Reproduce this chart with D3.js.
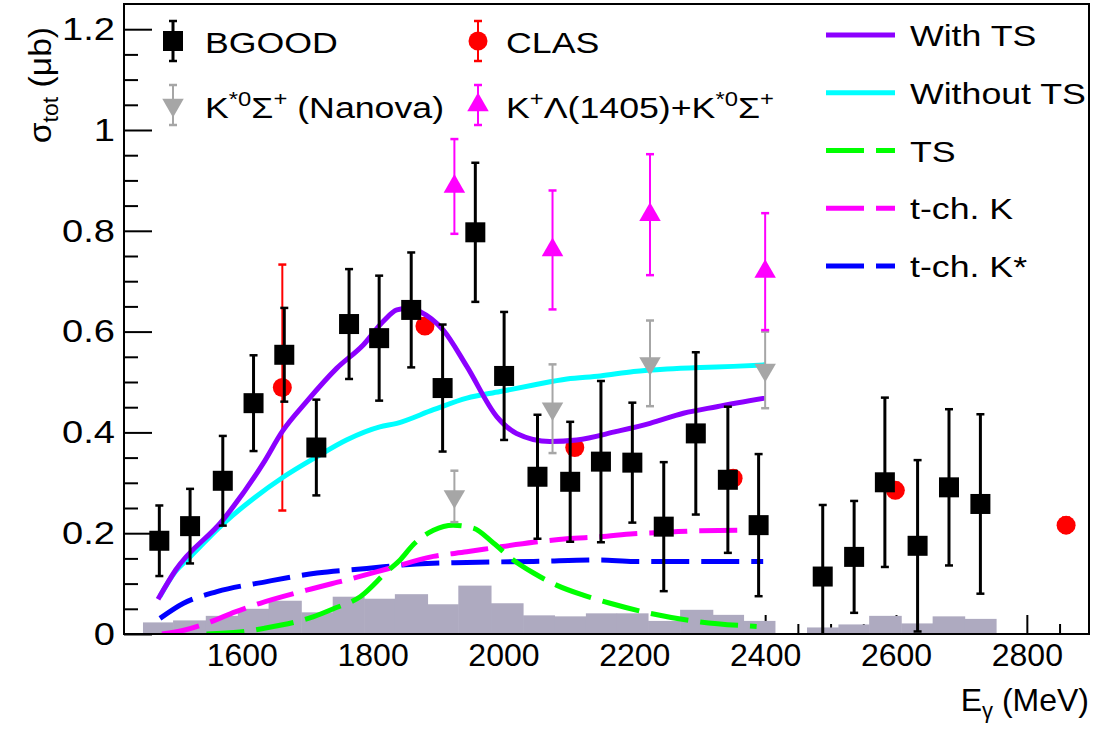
<!DOCTYPE html>
<html>
<head>
<meta charset="utf-8">
<script src="https://cdn.jsdelivr.net/npm/d3@7"></script>
<style>
  body { margin: 0; background: #fff; }
  svg { display: block; }
  text { font-family: "Liberation Sans", Arial, Helvetica, sans-serif; fill: #000; }
</style>
</head>
<body>
<svg id="chart" width="1096" height="731"></svg>
<script>
// ---- data ----
var bgoodE   = [1474,1521,1571,1618,1665,1714,1764,1810,1859,1907,1957,2001,2052,2102,2149,2197,2245,2294,2343,2390,2488,2536,2583,2633,2681,2729];
var bgoodVal = [0.185,0.214,0.304,0.458,0.554,0.370,0.615,0.587,0.643,0.488,0.797,0.512,0.312,0.302,0.342,0.340,0.213,0.398,0.306,0.216,0.114,0.153,0.301,0.175,0.291,0.258];
var bgoodErr = [0.070,0.074,0.089,0.095,0.093,0.095,0.109,0.124,0.114,0.126,0.138,0.127,0.123,0.119,0.160,0.119,0.128,0.161,0.145,0.141,0.142,0.111,0.168,0.170,0.155,0.178];

var clasE   = [1662,1880,2109,2351,2599,2860];
var clasVal = [0.489,0.611,0.370,0.309,0.285,0.216];
var clasErr = [0.244,0.015,0.015,0.015,0.015,0.015];

var nanovaE   = [1925,2075,2224,2400];
var nanovaVal = [0.273,0.447,0.537,0.524];
var nanovaErr = [0.051,0.088,0.085,0.076];

var sumE   = [1925,2075,2224,2400];
var sumVal = [0.888,0.762,0.832,0.719];
var sumErr = [0.094,0.118,0.120,0.116];

// acceptance-like histogram at the bottom (bin edges + contents)
var histEdges = [1449,1495,1545,1594,1641,1691,1739,1787,1834,1884,1931,1981,2030,2078,2126,2173,2221,2270,2320,2367,2415,2464,2512,2559,2608,2656,2705,2753];
var histVals  = [0.023,0.027,0.036,0.050,0.066,0.043,0.074,0.070,0.079,0.059,0.096,0.061,0.037,0.035,0.041,0.041,0.026,0.048,0.038,0.026,0,0.013,0.019,0.036,0.021,0.035,0.030];

// model curves [E, sigma]
var withTS = [[1472,0.069],[1499,0.127],[1571,0.226],[1633,0.339],[1662,0.402],[1699,0.461],[1745,0.527],[1786,0.574],[1816,0.620],[1837,0.643],[1857,0.647],[1872,0.640],[1908,0.603],[1944,0.531],[1990,0.431],[2020,0.398],[2071,0.382],[2112,0.385],[2173,0.402],[2224,0.418],[2275,0.438],[2326,0.451],[2400,0.468]];
var withoutTS = [[1475,0.075],[1498,0.123],[1521,0.153],[1571,0.218],[1618,0.269],[1662,0.310],[1715,0.352],[1760,0.385],[1811,0.411],[1837,0.418],[1893,0.445],[1944,0.468],[1995,0.481],[2046,0.494],[2097,0.506],[2148,0.512],[2199,0.521],[2250,0.526],[2301,0.529],[2351,0.531],[2400,0.534]];
var tsOnly = [[1546,0.0],[1597,0.004],[1633,0.011],[1709,0.034],[1740,0.050],[1781,0.074],[1822,0.124],[1842,0.147],[1862,0.177],[1893,0.206],[1923,0.216],[1954,0.210],[1985,0.180],[2015,0.147],[2046,0.121],[2081,0.097],[2122,0.077],[2163,0.061],[2224,0.041],[2301,0.024],[2387,0.015]];
var tchK = [[1478,0.0],[1513,0.008],[1552,0.024],[1590,0.044],[1628,0.061],[1699,0.087],[1771,0.111],[1822,0.129],[1893,0.154],[1944,0.163],[1995,0.173],[2046,0.182],[2097,0.189],[2148,0.193],[2199,0.199],[2250,0.202],[2301,0.205],[2400,0.206]];
var tchKstar = [[1475,0.031],[1511,0.061],[1562,0.084],[1638,0.104],[1715,0.121],[1791,0.130],[1867,0.139],[1944,0.142],[2046,0.144],[2148,0.147],[2199,0.144],[2397,0.144]];

var xMajor = [1600,1800,2000,2200,2400,2600,2800];
var yMajor = [0,0.2,0.4,0.6,0.8,1,1.2];

// ---- layout ----
var svg = d3.select("#chart");
var x = d3.scaleLinear().domain([1420, 2895]).range([124, 1089]);
var y = d3.scaleLinear().domain([0, 1.25]).range([634, 4]);

var cPurple = "#8c00ff", cCyan = "#00ffff", cGreen = "#00ff00",
    cMag = "#ff00ff", cBlue = "#0000ff", cHist = "#aeaac0", cGray = "#a6a6a6";
var dash = "38,12";
var stretch = 1.19; // the original text is set wider than Liberation Sans

svg.append("defs").append("clipPath").attr("id", "plotclip")
  .append("rect").attr("x", 124).attr("y", 4).attr("width", 965).attr("height", 630);

// ticks (drawn first, the histogram covers them)
var xMinor = d3.range(1450, 2895, 50).filter(d => xMajor.indexOf(d) < 0);
var yMinor = d3.range(0.05, 1.25, 0.05).filter(d => Math.abs(d * 5 - Math.round(d * 5)) > 1e-6);

var gx = svg.append("g").attr("transform", "translate(0,634)");
gx.call(d3.axisBottom(x).tickValues(xMajor).tickSizeInner(-19).tickSizeOuter(0)
        .tickPadding(9).tickFormat(d3.format("d")));
gx.append("g").call(d3.axisBottom(x).tickValues(xMinor).tickSizeInner(-10).tickSizeOuter(0).tickFormat(""));
gx.selectAll(".domain").remove();
gx.selectAll("line").attr("stroke", "#000").attr("stroke-width", 2);
gx.selectAll("text").attr("font-size", 32).attr("font-family", "Liberation Sans, Arial, sans-serif").attr("fill", "#000");

var gy = svg.append("g").attr("transform", "translate(124,0)");
gy.call(d3.axisLeft(y).tickValues(yMajor).tickSizeInner(-28).tickSizeOuter(0)
        .tickPadding(9).tickFormat(d => d === 0 || d === 1 ? String(d) : d3.format(".1f")(d)));
gy.append("g").call(d3.axisLeft(y).tickValues(yMinor).tickSizeInner(-14).tickSizeOuter(0).tickFormat(""));
gy.selectAll(".domain").remove();
gy.selectAll("line").attr("stroke", "#000").attr("stroke-width", 2);
gy.selectAll("text").attr("font-size", 32).attr("font-family", "Liberation Sans, Arial, sans-serif").attr("fill", "#000")
  .attr("x", -9 / stretch).attr("transform", "scale(" + stretch + ",1)");

// histogram
var plot = svg.append("g").attr("clip-path", "url(#plotclip)");
plot.selectAll("rect.hist")
  .data(histVals.map((v, i) => ({ lo: histEdges[i], hi: histEdges[i + 1], v: v })).filter(d => d.v > 0))
  .join("rect")
  .attr("class", "hist")
  .attr("x", d => x(d.lo))
  .attr("width", d => x(d.hi) - x(d.lo) + 0.5)
  .attr("y", d => y(d.v))
  .attr("height", d => y(0) - y(d.v))
  .attr("fill", cHist);

function errBars(g, E, V, Err, color, sw, capW) {
  var pts = E.map((e, i) => ({ e: e, v: V[i], err: Err[i] }));
  g.selectAll(null).data(pts).join("line")
    .attr("x1", d => x(d.e)).attr("x2", d => x(d.e))
    .attr("y1", d => y(Math.max(0, d.v - d.err))).attr("y2", d => y(d.v + d.err))
    .attr("stroke", color).attr("stroke-width", sw);
  [1, -1].forEach(function (s) {
    g.selectAll(null).data(pts.filter(d => s > 0 || d.v - d.err > 0)).join("line")
      .attr("x1", d => x(d.e) - capW / 2).attr("x2", d => x(d.e) + capW / 2)
      .attr("y1", d => y(d.v + s * d.err)).attr("y2", d => y(d.v + s * d.err))
      .attr("stroke", color).attr("stroke-width", 2.5);
  });
  return pts;
}

// CLAS (under the curves)
var gClas = plot.append("g");
var clasPts = errBars(gClas, clasE, clasVal, clasErr, "#ff0000", 2, 8);
gClas.selectAll("circle").data(clasPts).join("circle")
  .attr("cx", d => x(d.e)).attr("cy", d => y(d.v)).attr("r", 9.5).attr("fill", "#ff0000");

// model curves
var line = d3.line().x(d => x(d[0])).y(d => y(d[1])).curve(d3.curveMonotoneX);
[[tchKstar, cBlue, dash], [tchK, cMag, dash], [tsOnly, cGreen, dash],
 [withoutTS, cCyan, null], [withTS, cPurple, null]].forEach(function (c) {
  plot.append("path").datum(c[0]).attr("d", line)
    .attr("fill", "none").attr("stroke", c[1]).attr("stroke-width", 5)
    .attr("stroke-dasharray", c[2]);
});

var triUp = d3.symbol(d3.symbolTriangle, 200);

// Nanova K*0 Sigma+ (down triangles)
var gNan = plot.append("g");
var nanPts = errBars(gNan, nanovaE, nanovaVal, nanovaErr, cGray, 2, 8);
gNan.selectAll("path").data(nanPts).join("path")
  .attr("d", triUp)
  .attr("transform", d => "translate(" + x(d.e) + "," + y(d.v) + ") rotate(180)")
  .attr("fill", cGray);

// K+ L(1405) + K*0 Sigma+ (up triangles)
var gSum = plot.append("g");
var sumPts = errBars(gSum, sumE, sumVal, sumErr, cMag, 2, 8);
gSum.selectAll("path").data(sumPts).join("path")
  .attr("d", triUp)
  .attr("transform", d => "translate(" + x(d.e) + "," + y(d.v) + ")")
  .attr("fill", cMag);

// BGOOD
var gB = plot.append("g");
var bPts = errBars(gB, bgoodE, bgoodVal, bgoodErr, "#000", 3, 8);
gB.selectAll("rect").data(bPts).join("rect")
  .attr("x", d => x(d.e) - 10).attr("y", d => y(d.v) - 10)
  .attr("width", 20).attr("height", 20).attr("fill", "#000");

// frame
svg.append("rect").attr("x", 124).attr("y", 4).attr("width", 965).attr("height", 630)
  .attr("fill", "none").attr("stroke", "#000").attr("stroke-width", 2);

// axis titles
var xt = svg.append("text").attr("x", 1089).attr("y", 711).attr("text-anchor", "end").attr("font-size", 32);
xt.append("tspan").text("E");
xt.append("tspan").attr("font-size", 22).attr("dy", 7).text("\u03b3");
xt.append("tspan").attr("dy", -7).text(" (MeV)");

var yt = svg.append("text").attr("transform", "translate(51,27) rotate(-90) scale(1.05,1)")
  .attr("text-anchor", "end").attr("font-size", 32);
yt.append("tspan").text("\u03c3");
yt.append("tspan").attr("font-size", 22).attr("dy", 7).text("tot");
yt.append("tspan").attr("dy", -7).text(" (\u03bcb)");

// legend
var lg = svg.append("g").attr("font-size", 30);

function legMarker(cx, cy, kind, color, sw) {
  lg.append("line").attr("x1", cx).attr("x2", cx).attr("y1", cy - 20).attr("y2", cy + 20)
    .attr("stroke", color).attr("stroke-width", sw);
  [-20, 20].forEach(o => lg.append("line").attr("x1", cx - 4).attr("x2", cx + 4)
    .attr("y1", cy + o).attr("y2", cy + o).attr("stroke", color).attr("stroke-width", 2.5));
  if (kind === "square") lg.append("rect").attr("x", cx - 10).attr("y", cy - 10).attr("width", 20).attr("height", 20).attr("fill", color);
  if (kind === "circle") lg.append("circle").attr("cx", cx).attr("cy", cy).attr("r", 9.5).attr("fill", color);
  if (kind === "up") lg.append("path").attr("d", triUp).attr("transform", "translate(" + cx + "," + cy + ")").attr("fill", color);
  if (kind === "down") lg.append("path").attr("d", triUp).attr("transform", "translate(" + cx + "," + cy + ") rotate(180)").attr("fill", color);
}

// parts: [text, "sup"?]; superscripts are raised and the baseline restored after
function legText(tx, ty, parts) {
  var t = lg.append("text").attr("transform", "translate(" + tx + "," + ty + ") scale(" + stretch + ",1)");
  var raised = false;
  parts.forEach(function (p) {
    var s = t.append("tspan").text(p[0]);
    if (p[1] === "sup") { s.attr("font-size", 20).attr("dy", raised ? 0 : -12); raised = true; }
    else if (raised) { s.attr("dy", 12); raised = false; }
  });
}

legMarker(173, 41, "square", "#000", 3);
legText(205, 53, [["BGOOD"]]);
legMarker(173, 105, "down", cGray, 2);
legText(205, 118, [["K"], ["*0", "sup"], ["\u03a3"], ["+", "sup"], [" (Nanova)"]]);

legMarker(478, 41, "circle", "#ff0000", 2);
legText(506, 53, [["CLAS"]]);
legMarker(478, 105, "up", cMag, 2);
legText(506, 118, [["K"], ["+", "sup"], ["\u039b(1405)+K"], ["*0", "sup"], ["\u03a3"], ["+", "sup"]]);

var legLines = [["With TS", cPurple, null], ["Without TS", cCyan, null], ["TS", cGreen, dash],
                ["t-ch. K", cMag, dash], ["t-ch. K*", cBlue, dash]];
legLines.forEach(function (l, i) {
  var ly = 35 + i * 57.75;
  lg.append("line").attr("x1", 826).attr("x2", 895).attr("y1", ly).attr("y2", ly)
    .attr("stroke", l[1]).attr("stroke-width", 5).attr("stroke-dasharray", l[2]);
  legText(910, ly + 11, [[l[0]]]);
});
</script>
</body>
</html>
